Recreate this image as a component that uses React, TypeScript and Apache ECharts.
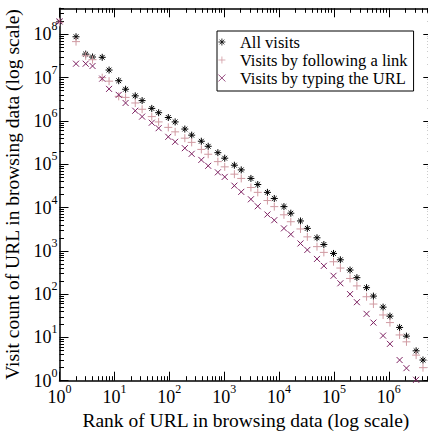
import React, { useEffect, useRef } from 'react';
import * as echarts from 'echarts';

// Rank of URL (x) — log-binned ranks
const RANKS = [1, 2, 3, 4, 6, 8, 12, 16, 24, 32, 48, 64, 96, 128, 192, 256, 384, 512, 768, 1024, 1536, 2048, 3072, 4096, 6144, 8192, 12288, 16384, 24576, 32768, 49152, 65536, 98304, 131072, 196608, 262144, 393216, 524288, 786432, 1048576, 1572864, 2097152, 3145728, 4194304];

const ALL_VISITS = [1.95e8, 8.8e7, 3.5e7, 3.0e7, 2.95e7, 1.5e7, 8.5e6, 5.4e6, 3.8e6, 2.95e6, 1.95e6, 1.55e6, 1.2e6, 9.5e5, 6.5e5, 4.7e5, 3.4e5, 2.6e5, 1.85e5, 1.38e5, 9.5e4, 7.4e4, 4.7e4, 3.4e4, 2.24e4, 1.62e4, 1.05e4, 7.4e3, 4.9e3, 3.3e3, 2.0e3, 1.4e3, 870, 620, 360, 240, 141, 90, 50, 31, 17, 10.7, 4.9, 3.0];

const LINK_VISITS = [1.9e8, 6.8e7, 3.2e7, 2.6e7, 1.0e7, 8.3e6, 3.7e6, 3.5e6, 2.6e6, 1.86e6, 1.26e6, 9.5e5, 7.1e5, 5.6e5, 4.0e5, 3.2e5, 2.2e5, 1.7e5, 1.15e5, 8.7e4, 5.9e4, 4.7e4, 2.9e4, 2.24e4, 1.45e4, 1.05e4, 6.8e3, 4.7e3, 3.2e3, 2.1e3, 1.25e3, 920, 560, 400, 230, 155, 87, 59, 33, 22, 11.4, 7.9, 3.9, 2.0];

const TYPED_VISITS = [2.0e8, 2.1e7, 2.1e7, 1.86e7, 9.5e6, 5.5e6, 4.0e6, 2.6e6, 1.72e6, 1.26e6, 9.1e5, 6.8e5, 4.3e5, 3.3e5, 2.35e5, 1.74e5, 1.26e5, 9.2e4, 6.5e4, 5.1e4, 3.2e4, 2.3e4, 1.55e4, 1.07e4, 6.9e3, 5.1e3, 3.3e3, 2.4e3, 1.48e3, 1.05e3, 650, 450, 265, 178, 100, 65, 35, 22, 11, 7.1, 3.0, 1.95, 1.05, null];

const SERIES_NAMES = ['All visits', 'Visits by following a link', 'Visits by typing the URL'];
const SERIES_COLORS = ['#000000', '#d09aa2', '#7e2262'];

const X_TICK_EXPONENTS = [0, 1, 2, 3, 4, 5, 6];
const Y_TICK_EXPONENTS = [0, 1, 2, 3, 4, 5, 6, 7, 8];
const X_MIN = 1;
const X_MAX = 6.2e6;
const Y_MIN = 1;
const Y_MAX = 4e8;

const X_TITLE = 'Rank of URL in browsing data (log scale)';
const Y_TITLE = 'Visit count of URL in browsing data (log scale)';

const FONT = "'Liberation Serif', 'Times New Roman', serif";

const STAR = 'path://M5,0L5,10M0,5L10,5M1.6,1.6L8.4,8.4M8.4,1.6L1.6,8.4';
const PLUS = 'path://M5,0L5,10M0,5L10,5';
const CROSS = 'path://M0,0L10,10M10,0L0,10';

function minorValues(maxExp: number, maxVal: number) {
  const out: number[] = [];
  for (let e = 0; e <= maxExp; e++) {
    for (let m = 2; m <= 9; m++) {
      const v = m * Math.pow(10, e);
      if (v <= maxVal) out.push(v);
    }
  }
  return out;
}

export default function App() {
  const ref = useRef<HTMLDivElement>(null);
  useEffect(() => {
    if (!ref.current) return;
    const chart = echarts.init(ref.current, null, { renderer: 'svg' });

    const xMajor = X_TICK_EXPONENTS.map((e) => Math.pow(10, e));
    const yMajor = Y_TICK_EXPONENTS.map((e) => Math.pow(10, e));
    const xMinor = minorValues(6, X_MAX);
    const yMinor = minorValues(8, Y_MAX);

    const rich = {
      b: { fontSize: 18, fontFamily: FONT, color: '#000', lineHeight: 28 },
      e: { fontSize: 12, fontFamily: FONT, color: '#000', lineHeight: 14, verticalAlign: 'top' },
    };
    const fmt = (v: number) => `{b|10}{e|${Math.round(Math.log10(v))}}`;

    const axisCommon = (min: number, max: number) => ({
      type: 'log',
      logBase: 10,
      min,
      max,
      splitLine: { show: false },
      minorTick: { show: false },
      minorSplitLine: { show: false },
    });
    const lineOn = { show: true, onZero: false, lineStyle: { color: '#000', width: 1.5 } };
    const lineOff = { show: false, onZero: false };
    const majorTick = (vals: number[]) => ({ show: true, inside: true, length: 9, customValues: vals, lineStyle: { color: '#000', width: 1 } });
    const minorTick = (vals: number[]) => ({ show: true, inside: true, length: 4.5, customValues: vals, lineStyle: { color: '#000', width: 1 } });
    const noLabel = { show: false };

    const mkData = (vals: (number | null)[]) => RANKS.map((r, i) => [r, vals[i]]).filter((d) => d[1] != null);

    chart.setOption({
      animation: false,
      backgroundColor: '#fff',
      textStyle: { fontFamily: FONT, color: '#000' },
      grid: { left: 59.5, top: 8.3, right: -4.3, bottom: 50.3, outerBoundsMode: 'none', containLabel: false },
      legend: {
        orient: 'vertical',
        left: 217,
        top: 31,
        padding: [2, 6, 4, 1],
        itemWidth: 26,
        itemHeight: 7,
        itemGap: 0,
        selectedMode: false,
        backgroundColor: '#fff',
        borderColor: '#000',
        borderWidth: 1,
        itemStyle: { borderWidth: 0.8 },
        textStyle: { fontSize: 16.5, fontFamily: FONT, color: '#000', lineHeight: 18 },
        data: [
          { name: SERIES_NAMES[0], icon: STAR },
          { name: SERIES_NAMES[1], icon: PLUS },
          { name: SERIES_NAMES[2], icon: CROSS },
        ],
      },
      xAxis: [
        {
          ...axisCommon(X_MIN, X_MAX),
          position: 'bottom',
          name: X_TITLE,
          nameLocation: 'middle',
          nameGap: 23,
          nameTextStyle: { fontSize: 19.5, fontFamily: FONT, color: '#000' },
          axisLine: lineOn,
          axisTick: majorTick(xMajor),
          axisLabel: { show: true, customValues: xMajor, formatter: fmt, rich, margin: 2, hideOverlap: false },
        },
        { ...axisCommon(X_MIN, X_MAX), position: 'bottom', axisLine: lineOff, axisTick: minorTick(xMinor), axisLabel: noLabel },
        { ...axisCommon(X_MIN, X_MAX), position: 'top', axisLine: lineOn, axisTick: majorTick(xMajor), axisLabel: noLabel },
        { ...axisCommon(X_MIN, X_MAX), position: 'top', axisLine: lineOff, axisTick: minorTick(xMinor), axisLabel: noLabel },
      ],
      yAxis: [
        {
          ...axisCommon(Y_MIN, Y_MAX),
          position: 'left',
          name: Y_TITLE,
          nameLocation: 'middle',
          nameGap: 30,
          nameTextStyle: { fontSize: 19.5, fontFamily: FONT, color: '#000' },
          axisLine: lineOn,
          axisTick: majorTick(yMajor),
          axisLabel: { show: true, customValues: yMajor, formatter: fmt, rich, margin: 2, hideOverlap: false },
        },
        { ...axisCommon(Y_MIN, Y_MAX), position: 'left', axisLine: lineOff, axisTick: minorTick(yMinor), axisLabel: noLabel },
        { ...axisCommon(Y_MIN, Y_MAX), position: 'right', axisLine: lineOn, axisTick: majorTick(yMajor), axisLabel: noLabel },
        { ...axisCommon(Y_MIN, Y_MAX), position: 'right', axisLine: lineOff, axisTick: minorTick(yMinor), axisLabel: noLabel },
      ],
      series: [
        {
          name: SERIES_NAMES[0],
          type: 'scatter',
          data: mkData(ALL_VISITS),
          symbol: STAR,
          symbolSize: 7,
          itemStyle: { color: SERIES_COLORS[0], borderColor: SERIES_COLORS[0], borderWidth: 1, opacity: 1 },
        },
        {
          name: SERIES_NAMES[1],
          type: 'scatter',
          data: mkData(LINK_VISITS),
          symbol: PLUS,
          symbolSize: 8,
          itemStyle: { color: SERIES_COLORS[1], borderColor: SERIES_COLORS[1], borderWidth: 1, opacity: 1 },
        },
        {
          name: SERIES_NAMES[2],
          type: 'scatter',
          data: mkData(TYPED_VISITS),
          symbol: CROSS,
          symbolSize: 6,
          itemStyle: { color: SERIES_COLORS[2], borderColor: SERIES_COLORS[2], borderWidth: 1, opacity: 1 },
        },
      ],
    });
    return () => chart.dispose();
  }, []);
  return <div ref={ref} style={{ position: 'fixed', left: 0, top: 0, width: 428, height: 431 }} />;
}
